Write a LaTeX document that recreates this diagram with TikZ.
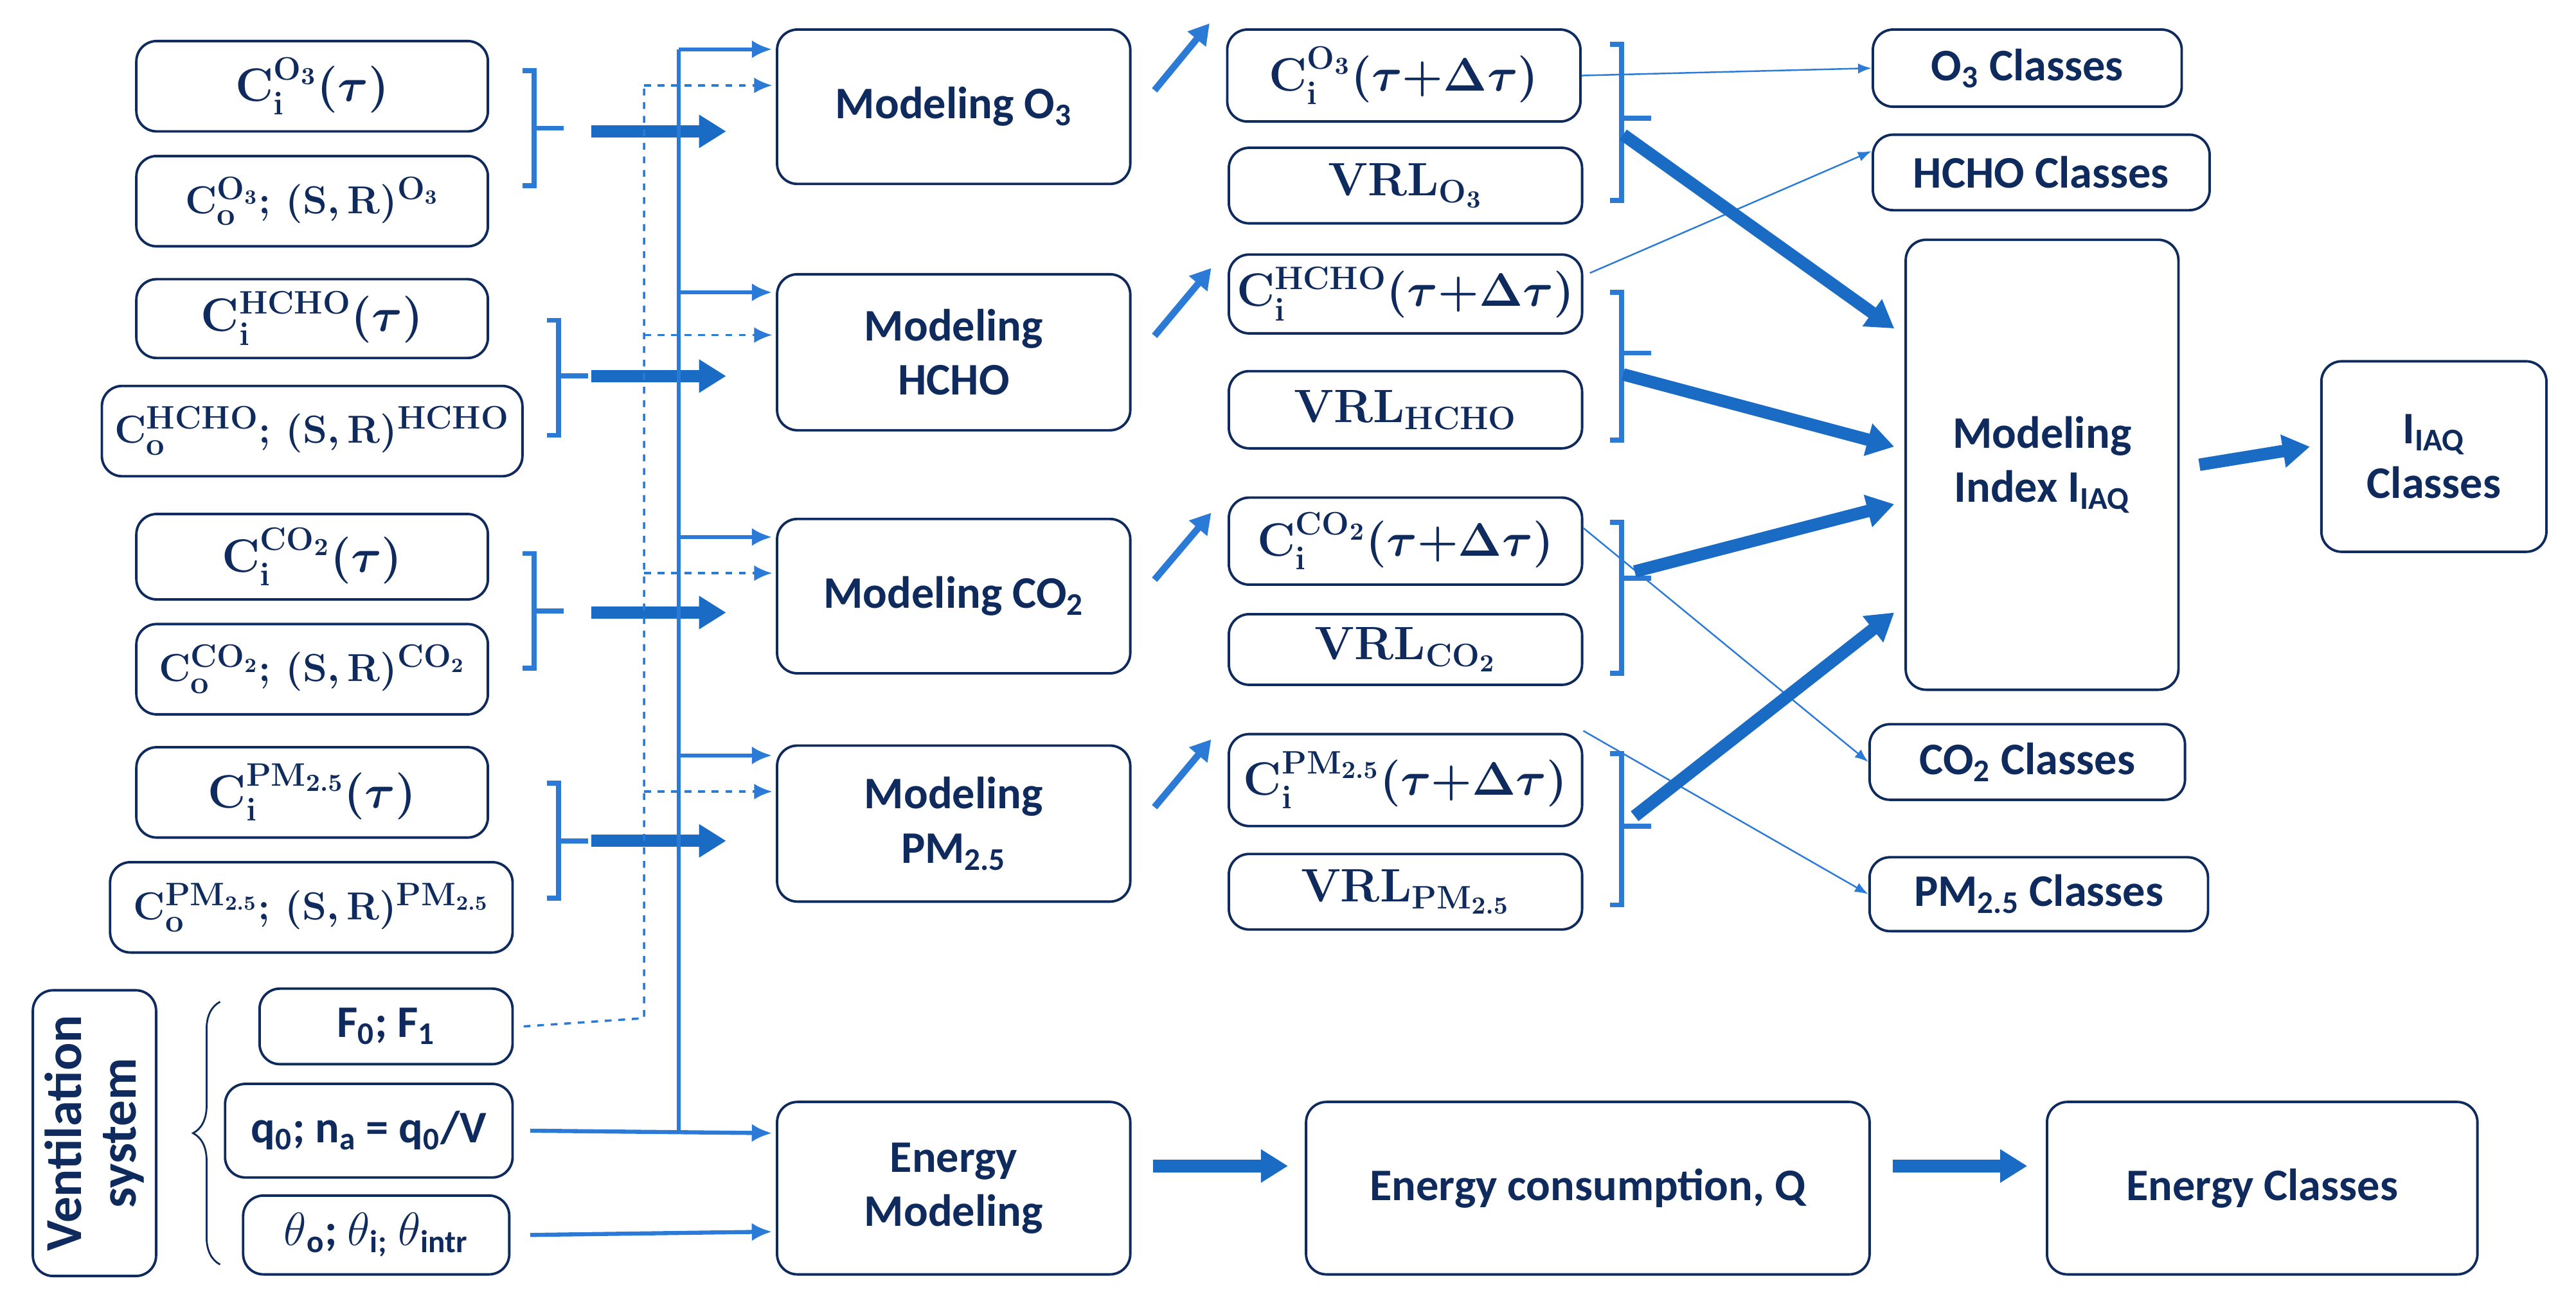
\documentclass[tikz,border=0pt]{standalone}
\usepackage{fontspec}
\setmainfont{Carlito}
\usepackage{amsmath}
\usetikzlibrary{arrows.meta,decorations.pathreplacing}
\definecolor{navy}{HTML}{0F2A5C}
\definecolor{lb}{HTML}{2B7BD6}
\definecolor{tb}{HTML}{1A6BC4}
\newcommand\bx[6]{\node[box,minimum width={(#4-#2)*0.2556mm},minimum height={(#5-#3)*0.2556mm}] (#1) at ({(#2+#4)/2},{(#3+#5)/2}) {#6};}
\newcommand\mb[1]{\mathbf{#1}}
\begin{document}
\begin{tikzpicture}[x=0.2556mm,y=-0.2556mm,
 box/.style={draw=navy,line width=1.1pt,rounded corners=9pt,inner sep=0pt,align=center,text=navy,font=\fontsize{20}{24}\selectfont\bfseries},
 fm/.style={font=\fontsize{22}{24}\selectfont\bfseries\boldmath},
 sm/.style={font=\fontsize{19}{22}\selectfont\bfseries\boldmath},
 br/.style={draw=lb,line width=2.2pt},
 fat/.style={draw=tb,line width=5.5pt,-{Triangle[length=12pt,width=14pt]}},
 thin/.style={draw=lb,line width=0.7pt,-{Latex[length=6pt]}},
 med/.style={draw=lb,line width=1.8pt,-{Latex[length=9pt,width=8pt]}},
 dsh/.style={draw=lb,line width=1pt,dashed,-{Latex[length=8pt,width=7pt]}}]
\useasboundingbox (0,0) rectangle (1568,792);
% left inputs
\bx{ci1}{83}{25}{297}{80}{}\node[fm,text=navy] at (ci1) {$\mb{C}_{\mb i}^{\mb{O_3}}(\tau)$};
\bx{co1}{83}{95}{297}{150}{}\node[sm,text=navy] at (co1) {$\mb{C}_{\mb o}^{\mb{O_3}};\,(\mb{S},\mb{R})^{\mb{O_3}}$};
\bx{ci2}{83}{170}{297}{218}{}\node[fm,text=navy] at (ci2) {$\mb{C}_{\mb i}^{\mb{HCHO}}(\tau)$};
\bx{co2}{62}{235}{318}{290}{}\node[sm,text=navy] at (co2) {$\mb{C}_{\mb o}^{\mb{HCHO}};\,(\mb{S},\mb{R})^{\mb{HCHO}}$};
\bx{ci3}{83}{313}{297}{365}{}\node[fm,text=navy] at (ci3) {$\mb{C}_{\mb i}^{\mb{CO_2}}(\tau)$};
\bx{co3}{83}{380}{297}{435}{}\node[sm,text=navy] at (co3) {$\mb{C}_{\mb o}^{\mb{CO_2}};\,(\mb{S},\mb{R})^{\mb{CO_2}}$};
\bx{ci4}{83}{455}{297}{510}{}\node[fm,text=navy] at (ci4) {$\mb{C}_{\mb i}^{\mb{PM_{2.5}}}(\tau)$};
\bx{co4}{67}{525}{312}{580}{}\node[sm,text=navy] at (co4) {$\mb{C}_{\mb o}^{\mb{PM_{2.5}}};\,(\mb{S},\mb{R})^{\mb{PM_{2.5}}}$};
\bx{vent}{20}{603}{95}{777}{}\node[text=navy,rotate=90,align=center,font=\fontsize{23}{24}\selectfont\bfseries] at (vent) {Ventilation\\system};
\bx{f}{158}{602}{312}{648}{F\textsubscript{0}; F\textsubscript{1}}
\bx{q}{137}{660}{312}{717}{q\textsubscript{0}; n\textsubscript{a} = q\textsubscript{0}/V}
\bx{th}{148}{728}{310}{776}{$\theta$\textsubscript{o}; $\theta$\textsubscript{i;} $\theta$\textsubscript{intr}}
\draw[navy,line width=0.8pt,decorate,decoration={brace,amplitude=12pt}] (134,770) -- (134,610);
% brackets left
\foreach \x/\ya/\yb/\ym in {318/43/113/78,333/195/265/229,318/337/407/372,333/477/547/512}{
 \draw[br] (\x,\ya) -- (\x+7,\ya) -- (\x+7,\yb) -- (\x,\yb);
 \draw[br] (\x+7,\ym) -- (\x+25,\ym);}
% modeling boxes
\bx{m1}{473}{18}{688}{112}{Modeling O\textsubscript{3}}
\bx{m2}{473}{167}{688}{262}{Modeling\\HCHO}
\bx{m3}{473}{316}{688}{410}{Modeling CO\textsubscript{2}}
\bx{m4}{473}{454}{688}{549}{Modeling\\PM\textsubscript{2.5}}
\bx{me}{473}{671}{688}{776}{Energy\\Modeling}
% fat arrows to modeling
\foreach \y in {80,229,373,512}{\draw[fat] (360,\y) -- (442,\y);}
% solid distribution
\coordinate (vt) at (413,30); \coordinate (vb) at (413,690);
\draw[lb,line width=1.8pt] (vt) -- (vb);
\foreach \y in {30,178,327,460}{\draw[med] (413,\y) -- (470,\y);}
\draw[med] (q.east) ++(10,0) coordinate (qs) -- (470,690);
\draw[med] (th.east) ++(12,0) coordinate (ts) -- (470,750);
% dashed distribution
\draw[lb,line width=1pt,dashed] (f.east) ++(6,0) -- (392,620) -- (392,52);
\foreach \y in {52,204,349,482}{\draw[dsh] (392,\y) -- (470,\y);}
% outputs
\bx{c1}{747}{18}{962}{74}{}\node[fm,text=navy] at (c1) {$\mb{C}_{\mb i}^{\mb{O_3}}(\tau{+}\Delta\tau)$};
\bx{v1}{748}{90}{963}{136}{}\node[fm,text=navy] at (v1) {$\mb{VRL}_{\mb{O_3}}$};
\bx{c2}{748}{155}{963}{203}{}\node[fm,text=navy] at (c2) {$\mb{C}_{\mb i}^{\mb{HCHO}}(\tau{+}\Delta\tau)$};
\bx{v2}{748}{226}{963}{273}{}\node[fm,text=navy] at (v2) {$\mb{VRL}_{\mb{HCHO}}$};
\bx{c3}{748}{303}{963}{356}{}\node[fm,text=navy] at (c3) {$\mb{C}_{\mb i}^{\mb{CO_2}}(\tau{+}\Delta\tau)$};
\bx{v3}{748}{374}{963}{417}{}\node[fm,text=navy] at (v3) {$\mb{VRL}_{\mb{CO_2}}$};
\bx{c4}{748}{447}{963}{503}{}\node[fm,text=navy] at (c4) {$\mb{C}_{\mb i}^{\mb{PM_{2.5}}}(\tau{+}\Delta\tau)$};
\bx{v4}{748}{520}{963}{566}{}\node[fm,text=navy] at (v4) {$\mb{VRL}_{\mb{PM_{2.5}}}$};
\foreach \a/\b in {m1/c1,m2/c2,m3/c3,m4/c4}{\draw[lb,line width=3pt,-{Triangle[length=9pt,width=10pt]}] ([shift={(14,-10)}]\a.east) -- ([shift={(-10,-3)}]\b.west |- \a.north east) ;}
% right brackets
\foreach \ya/\yb/\ym in {27/122/72,178/268/215,318/410/352,459/551/503}{
 \draw[br] (980,\ya) -- (987,\ya) -- (987,\yb) -- (980,\yb);
 \draw[br] (987,\ym) -- (1005,\ym);}
% class boxes
\bx{k1}{1140}{18}{1328}{65}{O\textsubscript{3} Classes}
\bx{k2}{1140}{82}{1345}{128}{HCHO Classes}
\bx{k3}{1138}{441}{1330}{487}{CO\textsubscript{2} Classes}
\bx{k4}{1138}{522}{1344}{567}{PM\textsubscript{2.5} Classes}
\bx{idx}{1160}{146}{1326}{420}{Modeling\\Index I\textsubscript{IAQ}}
\bx{iq}{1413}{220}{1550}{336}{I\textsubscript{IAQ}\\Classes}
\draw[thin] (c1.east) -- (k1.west);
\draw[thin] (c2.north east) ++(4,12) -- (k2.west |- 0,92);
\draw[thin] (c3.east) ++(0,-8) -- (k3.west);
\draw[thin] (c4.east) ++(0,-30) -- (k4.west);
\draw[fat] (988,82) -- (1153,200);
\draw[fat] (988,228) -- (1153,272);
\draw[fat] (995,348) -- (1153,307);
\draw[fat] (995,497) -- (1153,373);
\draw[fat] (idx.east) ++(12,0) -- (1406,272);
% energy
\bx{ec}{795}{671}{1138}{776}{Energy consumption, Q}
\bx{ek}{1246}{671}{1508}{776}{Energy Classes}
\draw[fat] (702,710) -- (784,710);
\draw[fat] (1152,710) -- (1234,710);
\end{tikzpicture}
\end{document}
